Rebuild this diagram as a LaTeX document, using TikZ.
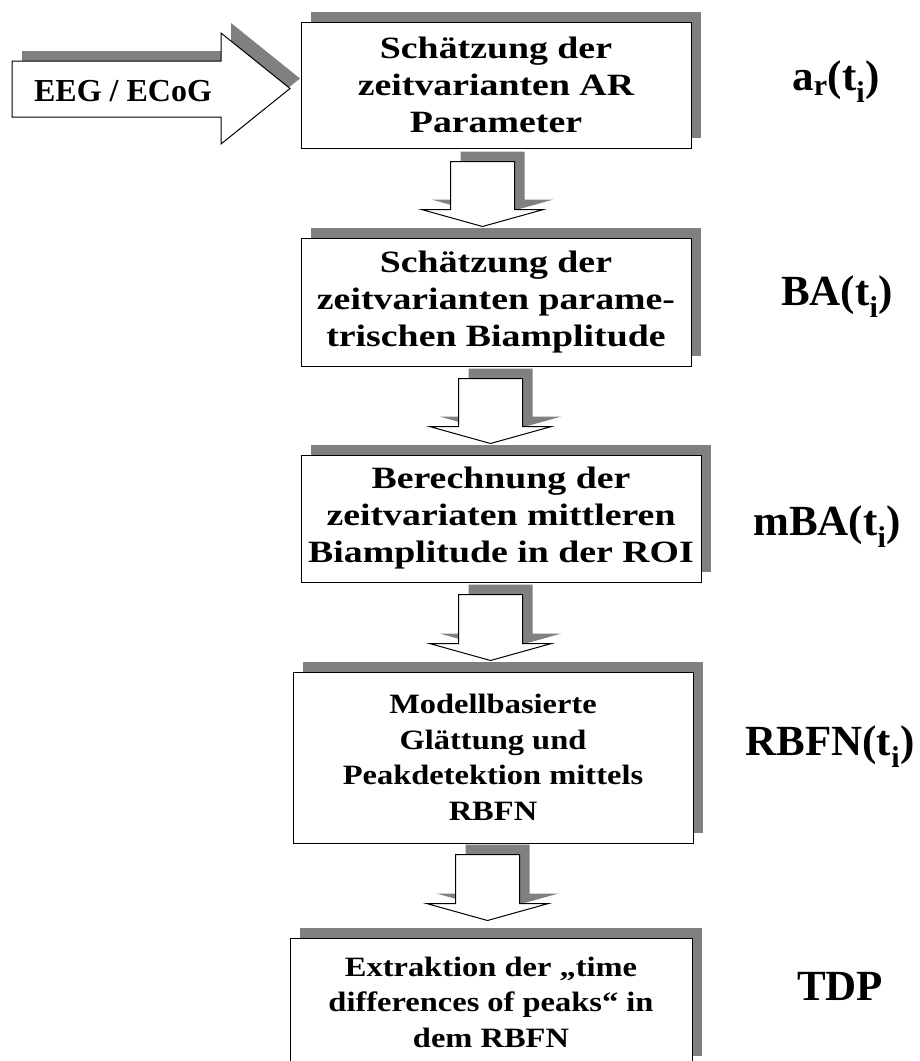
\documentclass[tikz,border=0pt]{standalone}
\usepackage{fontspec}
\setmainfont{Liberation Serif}
\newfontfamily\widefamily{Liberation Serif}[FakeStretch=1.22]
\newfontfamily\midfamily{Liberation Serif}[FakeStretch=1.16]
\usetikzlibrary{calc,shadows}
\definecolor{shadowgray}{HTML}{808080}
\newcommand\boxfont{\widefamily\fontsize{31}{37}\selectfont\bfseries}
\newcommand\boxfontb{\midfamily\fontsize{28}{35.5}\selectfont\bfseries}
\newcommand\labfont{\fontsize{43}{50}\selectfont\bfseries}
\newcommand\eegfont{\fontsize{32}{38}\selectfont\bfseries}
\newcommand\blockdown[2]{%
  \fill[shd, transform canvas={shift={(10pt,10pt)}}] let \p1=(#1), \p2=(#2) in
    (\x1-32pt,\y1) -- (\x1+32pt,\y1) -- (\x1+32pt,\y2+17pt) -- (\x1+61pt,\y2+17pt)
    -- (\x2,\y2) -- (\x1-61pt,\y2+17pt) -- (\x1-32pt,\y2+17pt) -- cycle;
  \draw[blk] let \p1=(#1), \p2=(#2) in
    (\x1-32pt,\y1) -- (\x1+32pt,\y1) -- (\x1+32pt,\y2+17pt) -- (\x1+61pt,\y2+17pt)
    -- (\x2,\y2) -- (\x1-61pt,\y2+17pt) -- (\x1-32pt,\y2+17pt) -- cycle;
}
\begin{document}
\begin{tikzpicture}[x=1pt,y=-1pt,
  shd/.style={fill=shadowgray},
  blk/.style={draw=black,line width=1pt,fill=white,line join=miter},
  box/.style={draw=black,line width=1pt,fill=white,align=center,inner sep=0pt,
    font=\boxfont,
    drop shadow={shadow xshift=10pt,shadow yshift=10pt,opacity=1,fill=shadowgray}},
  lab/.style={font=\labfont,anchor=base,inner sep=0pt}]
\useasboundingbox (0,0) rectangle (920,1061);
\clip (0,0) rectangle (920,1061);

% input arrow
\fill[shd, transform canvas={shift={(10pt,10pt)}}]
  (12,61) -- (221,61) -- (221,33) -- (290,88.5) -- (221,144) -- (221,117) -- (12,117) -- cycle;
\draw[blk] (12,61) -- (221,61) -- (221,33) -- (290,88.5) -- (221,144) -- (221,117) -- (12,117) -- cycle;
\node[font=\eegfont,anchor=base,inner sep=0pt] (eeg) at (123,101) {EEG / ECoG};

% boxes
\node[box,minimum width=390pt,minimum height=126pt] (b1) at (496,85)
  {Schätzung der\\zeitvarianten AR\\Parameter};
\node[box,minimum width=390pt,minimum height=128pt] (b2) at (496,302)
  {Schätzung der\\zeitvarianten parame-\\trischen Biamplitude};
\node[box,minimum width=400pt,minimum height=127pt] (b3) at (501,518.5)
  {Berechnung der\\zeitvariaten mittleren\\Biamplitude in der ROI};
\node[box,font=\boxfontb,minimum width=400pt,minimum height=171pt] (b4) at (493,757.5)
  {Modellbasierte\\Glättung und\\Peakdetektion mittels\\RBFN};
\node[box,font=\boxfontb,minimum width=402pt,minimum height=128pt] (b5) at (491,1002)
  {Extraktion der „time\\differences of peaks“ in\\dem RBFN};

% block arrows
\coordinate (t1) at ($(482.5,0 |- b1.south)+(0,13)$);
\coordinate (p1) at ($(482.5,0 |- b2.north)+(0,-11)$);
\coordinate (t2) at ($(490.5,0 |- b2.south)+(0,12)$);
\coordinate (p2) at ($(490.5,0 |- b3.north)+(0,-11)$);
\coordinate (t3) at ($(490.5,0 |- b3.south)+(0,12)$);
\coordinate (p3) at ($(490.5,0 |- b4.north)+(0,-11)$);
\coordinate (t4) at ($(487.5,0 |- b4.south)+(0,11)$);
\coordinate (p4) at ($(487.5,0 |- b5.north)+(0,-17)$);
\blockdown{t1}{p1}
\blockdown{t2}{p2}
\blockdown{t3}{p3}
\blockdown{t4}{p4}

% labels
\node[lab] (l1) at (836,90) {a\textsubscript{r}(t\textsubscript{i})};
\node[lab] (l2) at (837,305) {BA(t\textsubscript{i})};
\node[lab] (l3) at (827,535) {mBA(t\textsubscript{i})};
\node[lab] (l4) at (830,755) {RBFN(t\textsubscript{i})};
\node[lab] (l5) at (840,1000) {TDP};
\end{tikzpicture}
\end{document}
